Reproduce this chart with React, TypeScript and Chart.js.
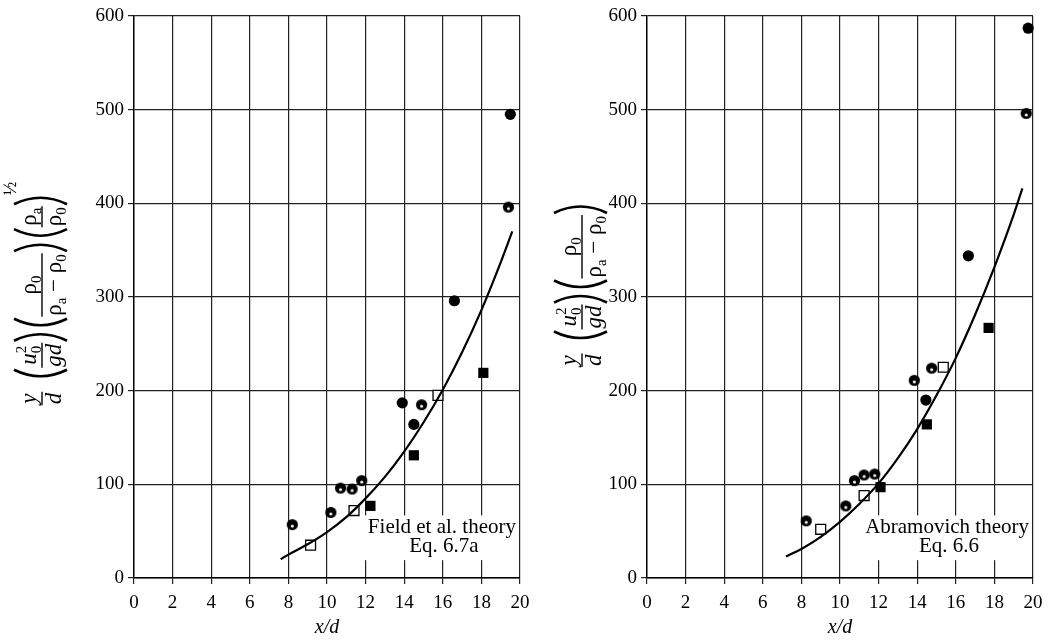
import React, { useEffect, useRef } from 'react';
import { Chart, registerables } from 'chart.js';
Chart.register(...registerables);

const SERIF = "'Liberation Serif', 'DejaVu Serif', serif";

// ---------- Left panel (Field et al. theory) ----------
const leftSolidX = [13.9, 14.5, 16.6, 19.5];
const leftSolidY = [187, 164, 296, 495];
const leftDotX = [8.2, 10.2, 10.7, 11.3, 11.8, 14.9, 19.4];
const leftDotY = [57, 70, 96, 95, 104, 185, 396];
const leftOpenSqX = [9.15, 11.4, 15.75];
const leftOpenSqY = [35, 72, 195];
const leftFillSqX = [12.25, 14.5, 18.1];
const leftFillSqY = [77, 131, 219];
const leftCurveX = [7.6, 8, 9, 10, 11, 12, 13, 14, 15, 16, 17, 18, 19, 19.6];
const leftCurveY = [20, 25, 36, 49, 65, 85, 108, 135, 166, 201, 241, 286, 337, 370];
const leftNote = ['Field et al. theory', 'Eq. 6.7a'];

// ---------- Right panel (Abramovich theory) ----------
const rightSolidX = [14.45, 16.65, 19.75];
const rightSolidY = [190, 344, 587];
const rightDotX = [8.25, 10.3, 10.75, 11.25, 11.8, 13.85, 14.75, 19.65];
const rightDotY = [61, 77, 104, 110, 111, 211, 224, 496];
const rightOpenSqX = [9.0, 11.25, 15.35];
const rightOpenSqY = [52, 88, 225];
const rightFillSqX = [12.1, 14.5, 17.7];
const rightFillSqY = [97, 164, 267];
const rightCurveX = [7.2, 8, 9, 10, 11, 12, 13, 14, 15, 16, 17, 18, 19, 19.45];
const rightCurveY = [23, 31, 44, 60, 79, 101, 128, 159, 195, 235, 281, 332, 388, 416];
const rightNote = ['Abramovich theory', 'Eq. 6.6'];

// ---------- Axes ----------
const xMin = 0, xMax = 20, xStep = 2;
const yMin = 0, yMax = 600, yStep = 100;
const xTitle = 'x/d';

const zip = (xs: number[], ys: number[]) => xs.map((x, i) => ({ x, y: ys[i] }));

// ---------- formula (y-axis title) ----------
type Run = { t: string; f: string; dy?: number; na?: boolean };
type Item =
  | { k: 'frac'; num: Run[]; den: Run[] }
  | { k: 'lp' }
  | { k: 'rp' }
  | { k: 'sp'; w: number }
  | { k: 'sup'; runs: Run[] };

const IT = `italic 23px ${SERIF}`;
const RM = `23px ${SERIF}`;
const SB = `15px ${SERIF}`;
const SP = `18px ${SERIF}`;

const it = (t: string): Run => ({ t, f: IT });
const rm = (t: string): Run => ({ t, f: RM });
const sub = (t: string): Run => ({ t, f: SB, dy: 5 });

const fracYD: Item = { k: 'frac', num: [it('y')], den: [it('d')] };
const fracU: Item = {
  k: 'frac',
  num: [it('u'), { t: '2', f: SB, dy: -10, na: true }, sub('0')],
  den: [it('gd')],
};
const fracRho: Item = {
  k: 'frac',
  num: [rm('ρ'), sub('0')],
  den: [rm('ρ'), sub('a'), rm(' − '), rm('ρ'), sub('0')],
};
const fracRhoA: Item = { k: 'frac', num: [rm('ρ'), sub('a')], den: [rm('ρ'), sub('0')] };

const leftFormula: Item[] = [
  fracYD, { k: 'sp', w: 12 },
  { k: 'lp' }, fracU, { k: 'rp' }, { k: 'sp', w: 4 },
  { k: 'lp' }, fracRho, { k: 'rp' }, { k: 'sp', w: 4 },
  { k: 'lp' }, fracRhoA, { k: 'rp' }, { k: 'sup', runs: [{ t: '½', f: SP }] },
];
const rightFormula: Item[] = [
  fracYD, { k: 'sp', w: 12 },
  { k: 'lp' }, fracU, { k: 'rp' }, { k: 'sp', w: 4 },
  { k: 'lp' }, fracRho, { k: 'rp' },
];

function runsWidth(ctx: CanvasRenderingContext2D, runs: Run[]) {
  let w = 0;
  for (const r of runs) {
    ctx.font = r.f;
    if (!r.na) w += ctx.measureText(r.t).width;
  }
  return w;
}
function drawRuns(ctx: CanvasRenderingContext2D, runs: Run[], x: number, y: number) {
  for (const r of runs) {
    ctx.font = r.f;
    ctx.fillText(r.t, x, y + (r.dy || 0));
    if (!r.na) x += ctx.measureText(r.t).width;
  }
}
const PW = 10;
function itemWidth(ctx: CanvasRenderingContext2D, item: Item) {
  if (item.k === 'frac') return Math.max(runsWidth(ctx, item.num), runsWidth(ctx, item.den)) + 4;
  if (item.k === 'lp' || item.k === 'rp') return PW;
  if (item.k === 'sp') return item.w;
  return runsWidth(ctx, item.runs);
}
function drawFormula(ctx: CanvasRenderingContext2D, items: Item[], cx: number, cy: number) {
  ctx.save();
  ctx.translate(cx, cy);
  ctx.rotate(-Math.PI / 2);
  ctx.fillStyle = '#000';
  ctx.strokeStyle = '#000';
  ctx.textBaseline = 'alphabetic';
  ctx.textAlign = 'left';
  const total = items.reduce((s, it2) => s + itemWidth(ctx, it2), 0);
  let x = -total / 2;
  for (const item of items) {
    const w = itemWidth(ctx, item);
    if (item.k === 'frac') {
      const nw = runsWidth(ctx, item.num);
      const dw = runsWidth(ctx, item.den);
      drawRuns(ctx, item.num, x + (w - nw) / 2, -6);
      drawRuns(ctx, item.den, x + (w - dw) / 2, 19);
      ctx.lineWidth = 1.4;
      ctx.beginPath();
      ctx.moveTo(x + 1, 0);
      ctx.lineTo(x + w - 1, 0);
      ctx.stroke();
    } else if (item.k === 'lp' || item.k === 'rp') {
      ctx.lineWidth = 2.6;
      ctx.beginPath();
      if (item.k === 'lp') {
        ctx.moveTo(x + PW - 1, -28);
        ctx.quadraticCurveTo(x - 4, -1.5, x + PW - 1, 25);
      } else {
        ctx.moveTo(x + 1, -28);
        ctx.quadraticCurveTo(x + PW + 4, -1.5, x + 1, 25);
      }
      ctx.stroke();
    } else if (item.k === 'sup') {
      drawRuns(ctx, item.runs, x, -26);
    }
    x += w;
  }
  ctx.restore();
}

function makeDotCircle(): HTMLCanvasElement {
  const c = document.createElement('canvas');
  c.width = 13;
  c.height = 13;
  const g = c.getContext('2d')!;
  g.fillStyle = '#000';
  g.beginPath();
  g.arc(6.5, 6.5, 5.6, 0, Math.PI * 2);
  g.fill();
  g.fillStyle = '#fff';
  g.beginPath();
  g.arc(6.5, 8, 1.5, 0, Math.PI * 2);
  g.fill();
  return c;
}

type PanelCfg = {
  solid: { x: number; y: number }[];
  dot: { x: number; y: number }[];
  openSq: { x: number; y: number }[];
  fillSq: { x: number; y: number }[];
  curve: { x: number; y: number }[];
  yAxisWidth: number;
  padRight: number;
  formula: Item[];
  formulaX: number;
  formulaY: number;
  note: string[];
};

function buildChart(canvas: HTMLCanvasElement, p: PanelCfg) {
  const dotImg = makeDotCircle();
  const tickFont = { family: SERIF, size: 19 };
  const notePlugin = {
    id: 'notes',
    beforeDatasetsDraw(chart: any) {
      const { ctx, chartArea } = chart;
      ctx.save();
      ctx.font = `21px ${SERIF}`;
      const w1 = ctx.measureText(p.note[0]).width;
      const right = chartArea.right - 4;
      const cx = right - w1 / 2;
      const y1 = chart.scales.y.getPixelForValue(54);
      const y2 = chart.scales.y.getPixelForValue(34);
      ctx.fillStyle = '#fff';
      ctx.fillRect(right - w1 - 3, y1 - 12, w1 + 6, y2 - y1 + 26);
      ctx.fillStyle = '#000';
      ctx.textAlign = 'center';
      ctx.textBaseline = 'middle';
      ctx.fillText(p.note[0], cx, y1);
      ctx.fillText(p.note[1], cx + 2, y2);
      ctx.restore();
    },
    afterDraw(chart: any) {
      drawFormula(chart.ctx, p.formula, p.formulaX, p.formulaY);
    },
  };
  return new Chart(canvas, {
    type: 'scatter',
    data: {
      datasets: [
        {
          type: 'line',
          data: p.curve,
          borderColor: '#000',
          borderWidth: 2.2,
          pointRadius: 0,
          tension: 0.4,
          cubicInterpolationMode: 'monotone',
          fill: false,
        } as any,
        { data: p.solid, pointStyle: 'circle', pointRadius: 5.6, backgroundColor: '#000', borderWidth: 0, clip: false } as any,
        { data: p.dot, pointStyle: dotImg, pointRadius: 5.6, clip: false } as any,
        { data: p.openSq, pointStyle: 'rect', pointRadius: 7, backgroundColor: '#fff', borderColor: '#000', borderWidth: 1.3, clip: false } as any,
        { data: p.fillSq, pointStyle: 'rect', pointRadius: 7.2, backgroundColor: '#000', borderColor: '#000', borderWidth: 0, clip: false } as any,
      ],
    },
    options: {
      animation: false,
      responsive: false,
      maintainAspectRatio: false,
      events: [],
      layout: { padding: { top: 16, right: p.padRight, bottom: 0, left: 0 } },
      plugins: { legend: { display: false }, tooltip: { enabled: false } },
      scales: {
        x: {
          type: 'linear',
          min: xMin,
          max: xMax,
          ticks: { stepSize: xStep, color: '#000', font: tickFont, padding: 8, maxRotation: 0, autoSkip: false },
          grid: { color: '#222', lineWidth: 1.2, tickLength: 6, drawTicks: true },
          border: { color: '#000', width: 1.4 },
          title: { display: true, text: xTitle, color: '#000', font: { family: SERIF, size: 20, style: 'italic' }, padding: { top: 0, bottom: 2 } },
          afterFit: (s: any) => { s.height = 64; },
        },
        y: {
          type: 'linear',
          min: yMin,
          max: yMax,
          ticks: { stepSize: yStep, color: '#000', font: tickFont, padding: 4 },
          grid: { color: '#222', lineWidth: 1.2, tickLength: 6, drawTicks: true },
          border: { color: '#000', width: 1.4 },
          afterFit: (s: any) => { s.width = p.yAxisWidth; },
        },
      },
    } as any,
    plugins: [notePlugin],
  });
}

export default function App() {
  const leftRef = useRef<HTMLCanvasElement>(null);
  const rightRef = useRef<HTMLCanvasElement>(null);
  useEffect(() => {
    const c1 = buildChart(leftRef.current!, {
      solid: zip(leftSolidX, leftSolidY),
      dot: zip(leftDotX, leftDotY),
      openSq: zip(leftOpenSqX, leftOpenSqY),
      fillSq: zip(leftFillSqX, leftFillSqY),
      curve: zip(leftCurveX, leftCurveY),
      yAxisWidth: 134,
      padRight: 20,
      formula: leftFormula,
      formulaX: 42,
      formulaY: 294,
      note: leftNote,
    });
    const c2 = buildChart(rightRef.current!, {
      solid: zip(rightSolidX, rightSolidY),
      dot: zip(rightDotX, rightDotY),
      openSq: zip(rightOpenSqX, rightOpenSqY),
      fillSq: zip(rightFillSqX, rightFillSqY),
      curve: zip(rightCurveX, rightCurveY),
      yAxisWidth: 127,
      padRight: 21,
      formula: rightFormula,
      formulaX: 62,
      formulaY: 286,
      note: rightNote,
    });
    return () => {
      c1.destroy();
      c2.destroy();
    };
  }, []);
  return (
    <div style={{ position: 'fixed', left: 0, top: 0, width: 1054, height: 642, background: '#fff', overflow: 'hidden' }}>
      <canvas ref={leftRef} width={540} height={642} style={{ position: 'absolute', left: 0, top: 0, width: 540, height: 642 }} />
      <canvas ref={rightRef} width={534} height={642} style={{ position: 'absolute', left: 520, top: 0, width: 534, height: 642 }} />
    </div>
  );
}
